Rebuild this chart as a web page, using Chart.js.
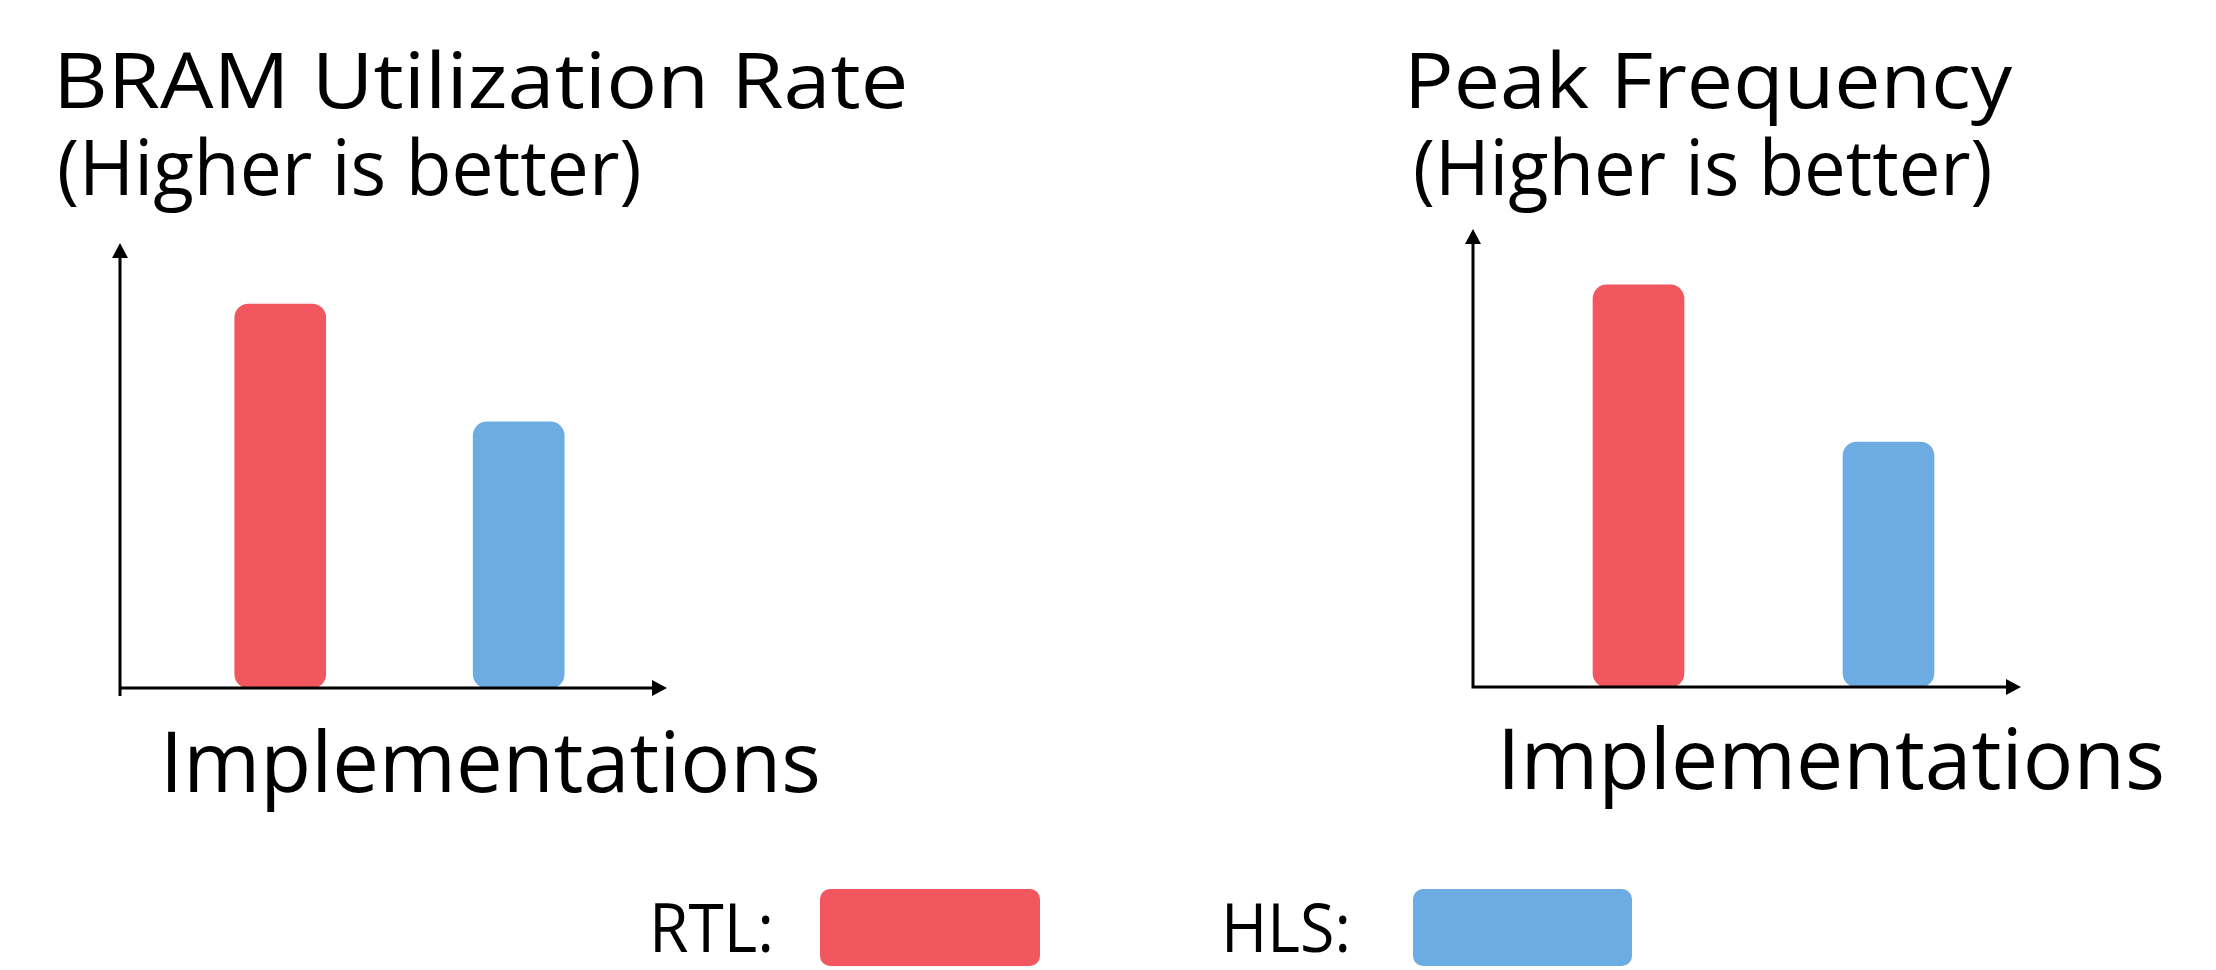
<!DOCTYPE html>
<html>
<head>
<meta charset="utf-8">
<title>BRAM Utilization Rate / Peak Frequency</title>
<script src="https://cdn.jsdelivr.net/npm/chart.js@4.4.1/dist/chart.umd.min.js"></script>
<style>
  body { margin: 0; width: 2216px; height: 970px; background: #fff; position: relative; overflow: hidden; font-family: 'Open Sans', sans-serif; color: #000; }
  .txt { position: absolute; white-space: nowrap; line-height: 1; transform-origin: 0 0; }
  .swatch { position: absolute; border-radius: 10px; }
  canvas { position: absolute; }
</style>
</head>
<body>
<div class="txt" id="bramTitle">BRAM Utilization Rate</div>
<div class="txt" id="bramSub">(Higher is better)</div>
<div class="txt" id="freqTitle">Peak Frequency</div>
<div class="txt" id="freqSub">(Higher is better)</div>

<canvas id="bramChart" width="600" height="500" style="left:100px; top:220px;"></canvas>
<canvas id="freqChart" width="600" height="520" style="left:1450px; top:200px;"></canvas>

<div class="txt" id="bramAxis">Implementations</div>
<div class="txt" id="freqAxis">Implementations</div>

<div class="txt" id="legRTL">RTL:</div>
<div class="swatch" style="left:820px; top:889px; width:220px; height:77px; background:#F2565E;"></div>
<div class="txt" id="legHLS">HLS:</div>
<div class="swatch" style="left:1413px; top:889px; width:219px; height:77px; background:#6CACE2;"></div>

<script>
// data
const implementations = ['RTL', 'HLS'];
const bramUtilization = [86.3, 59.8];
const peakFrequency = [87.8, 53.5];
const barColors = ['#F2565E', '#6CACE2'];

// axes with arrow heads, drawn along the chart area
const arrowAxes = {
  id: 'arrowAxes',
  afterDatasetsDraw(chart, args, options) {
    const a = chart.chartArea;
    const ctx = chart.ctx;
    const head = 15, half = 8;
    ctx.save();
    ctx.strokeStyle = '#000';
    ctx.fillStyle = '#000';
    ctx.lineWidth = 3;
    ctx.beginPath();
    ctx.moveTo(a.left, a.top + head - 1);
    ctx.lineTo(a.left, a.bottom + options.tail);
    ctx.moveTo(a.left - 1.5, a.bottom);
    ctx.lineTo(a.right - head + 1, a.bottom);
    ctx.stroke();
    ctx.beginPath();
    ctx.moveTo(a.left, a.top);
    ctx.lineTo(a.left - half, a.top + head);
    ctx.lineTo(a.left + half, a.top + head);
    ctx.closePath();
    ctx.moveTo(a.right, a.bottom);
    ctx.lineTo(a.right - head, a.bottom - half);
    ctx.lineTo(a.right - head, a.bottom + half);
    ctx.closePath();
    ctx.fill();
    ctx.restore();
  }
};

function makeChart(id, values, opts) {
  const datasets = implementations.map(function (name, i) {
    return {
      label: name,
      data: [{ x: i + 1, y: values[i] }],
      backgroundColor: barColors[i],
      barThickness: 91,
      borderRadius: 14,
      borderSkipped: false,
      grouped: false
    };
  });
  return new Chart(document.getElementById(id), {
    type: 'bar',
    data: { datasets: datasets },
    options: {
      responsive: false,
      animation: false,
      devicePixelRatio: 1,
      layout: { padding: opts.padding },
      plugins: {
        legend: { display: false },
        tooltip: { enabled: false },
        arrowAxes: { tail: opts.tail }
      },
      scales: {
        x: { type: 'linear', display: false, offset: false, min: opts.xMin, max: opts.xMax },
        y: { display: false, min: 0, max: 100 }
      }
    },
    plugins: [arrowAxes]
  });
}

makeChart('bramChart', bramUtilization, {
  padding: { left: 20, top: 23, right: 33, bottom: 32 },
  xMin: 0.328, xMax: 2.622, tail: 8
});
makeChart('freqChart', peakFrequency, {
  padding: { left: 23, top: 29, right: 29, bottom: 33 },
  xMin: 0.338, xMax: 2.530, tail: 0
});

// place text so its ink spans left..right and sits on the baseline
const measureCtx = document.createElement('canvas').getContext('2d');
function fitText(id, left, right, baseline, size) {
  const el = document.getElementById(id);
  el.style.fontSize = size + 'px';
  el.style.left = '0px';
  el.style.top = '0px';
  measureCtx.font = size + 'px "Open Sans"';
  const m = measureCtx.measureText(el.textContent);
  const inkStart = -m.actualBoundingBoxLeft;
  const inkEnd = m.actualBoundingBoxRight;
  const scale = (right - left) / (inkEnd - inkStart);
  const mark = document.createElement('span');
  mark.style.display = 'inline-block';
  mark.style.width = '0';
  mark.style.height = '0';
  el.appendChild(mark);
  const base = mark.getBoundingClientRect().top;
  el.style.top = (baseline - base) + 'px';
  el.style.left = (left - inkStart * scale) + 'px';
  el.style.transform = 'scaleX(' + scale + ')';
}

fitText('bramTitle', 61, 905, 108, 77);
fitText('bramSub', 60, 639, 195, 77);
fitText('freqTitle', 1412, 2013, 108, 77);
fitText('freqSub', 1416, 1990, 195, 77);
fitText('bramAxis', 168, 818, 792, 84);
fitText('freqAxis', 1505, 2162, 789, 84);
fitText('legRTL', 655, 770, 952, 67);
fitText('legHLS', 1227, 1347, 952, 67);
</script>
</body>
</html>
